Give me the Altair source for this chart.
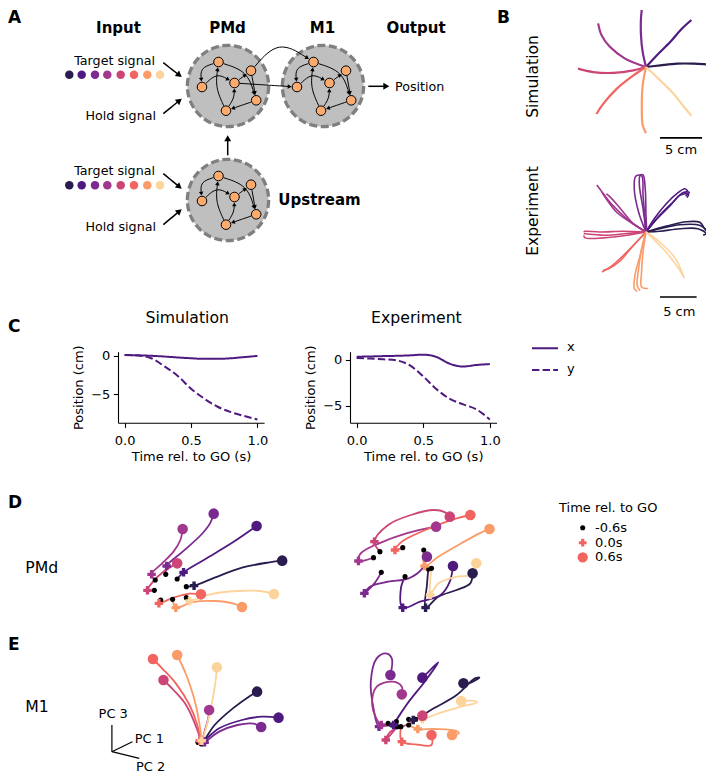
import math
import altair as alt
import pandas as pd

FONT = "DejaVu Sans"
PAL = ["#2a1c4e", "#4e1a80", "#7b2a8f", "#a2378e", "#cd4577", "#f1645f", "#fb9b68", "#fdd39c"]
CIDS = [f"c{i}" for i in range(8)]
CSC = alt.Scale(domain=CIDS, range=PAL)

# ---------------- Panel A : schematic ----------------
HEADERS = ["Input", "PMd", "M1", "Output"]
HEADER_X = [118.5, 227.5, 322.5, 416.0]
NET_NAMES = ["PMd", "M1", "Upstream"]
NET_X = [228, 323, 228]
NET_Y = [84, 84, 198]
NODE_DX = [-9.5, 23.0, 6.5, -26.0, 28.2, -2.0]
NODE_DY = [-24.0, -15.3, -3.0, 1.0, 14.3, 24.7]
EDGE_FROM = [0, 3, 0, 5, 5, 4, 2, 1]
EDGE_TO = [3, 2, 4, 0, 2, 5, 1, 4]
EDGE_BEND = [12, -12, -14, -7, 4, 0, 0, 0]
CROSS_EDGES = [(1, 0, -27), (2, 3, 0)]  # PMd node -> M1 node, bend
SIGNAL_ROW_Y = [72.8, 183.3]
SIGNAL_X = [69.3, 81.7, 95.0, 107.3, 120.7, 134.0, 147.3, 160.0]
INPUT_LABELS = ["Target signal", "Hold signal", "Target signal", "Hold signal"]
INPUT_LABEL_X = [155, 156, 155, 156]
INPUT_LABEL_Y = [59.0, 114.3, 169.3, 225.3]
EXT_ARROWS = [(163.3, 60.7, 181.7, 75.0), (163.3, 111.7, 181.7, 96.7),
              (163.3, 171.7, 181.7, 186.7), (163.3, 222.7, 181.7, 207.3),
              (227.7, 153.3, 227.7, 133.3), (368.3, 84.3, 389.3, 84.3)]

# ---------------- Panel B : hand trajectories (cm) ----------------
BSIM_X = [[0, 1.7, 3.7, 5.6, 7.2, 8.0],
          [0, 1.3, 2.9, 4.2, 5.4],
          [0, -0.4, -0.6, -0.6, -0.4],
          [0, -2.5, -4.3, -5.3, -5.7],
          [0, -1.5, -3.9, -6.3, -8.1],
          [0, -1.5, -3.5, -5.1, -5.9],
          [0, -0.4, -0.5, -0.4, 0.0],
          [0, 1.7, 3.3, 4.4, 5.4]]
BSIM_Y = [[0, 0.2, 0.4, 0.4, 0.3, 0.1],
          [0, 1.4, 3.0, 4.5, 5.6],
          [0, 1.8, 3.8, 5.8, 7.7],
          [0, 1.0, 2.4, 3.8, 5.2],
          [0, -0.4, -0.7, -0.6, -0.2],
          [0, -1.0, -2.6, -4.4, -5.6],
          [0, -2.2, -5.0, -6.9, -7.9],
          [0, -1.6, -3.2, -4.6, -5.8]]
BEXP_C = [0, 0, 0, 1, 1, 1, 2, 2, 3, 3, 3, 4, 4, 4, 5, 5, 6, 6, 6, 7, 7]
BEXP_X = [[0, 1.9, 4.6, 7.4, 8.3, 8.5], [0, 1.9, 4.6, 7.1, 8.2, 7.8], [0, 2.8, 5.5, 7.4, 8.0, 8.5],
          [0, 1.5, 3.3, 4.6, 5.8, 5.6], [0, 1.9, 3.7, 5.1, 5.9, 5.4], [0, 1.2, 2.8, 4.3, 5.3, 5.7],
          [0, -0.4, -0.9, -0.8, -0.4, -0.1, 0, 0.1], [0, -1.0, -1.6, -1.4, -0.6, -0.4, 0],
          [0, -2.6, -4.5, -5.8, -6.7], [0, -2.2, -4.0, -5.4, -6.0, -5.6], [0, -1.7, -3.5, -4.9, -5.4],
          [0, -2.6, -5.4, -7.6, -8.5], [0, -2.6, -5.8, -8.3, -8.5], [0, -3.1, -6.3, -8.3, -8.5],
          [0, -1.3, -3.1, -4.9, -6.0], [0, -1.7, -3.5, -5.1, -5.8],
          [0, -0.6, -1.0, -1.2, -0.8], [0, -0.4, -0.6, -0.6, 0.3], [0, -0.8, -1.5, -1.6, -1.2],
          [0, 1.45, 3.3, 4.6, 5.1], [0, 1.9, 4.0, 5.0, 5.2]]
BEXP_Y = [[0, 0.45, 1.0, 0.9, 0.2, -0.2], [0, 0.1, 0.45, 0.45, -0.2, -0.45], [0, 0.8, 1.4, 1.3, 0.45, 0],
          [0, 1.8, 3.6, 5.0, 5.2, 4.7], [0, 2.3, 4.1, 5.4, 5.4, 4.9], [0, 1.9, 3.9, 5.3, 5.9, 5.6],
          [0, 3.2, 6.4, 7.7, 7.8, 5.9, 2.3, 0], [0, 2.7, 5.9, 7.6, 7.7, 5.0, 0],
          [0, 1.8, 3.6, 5.2, 6.4], [0, 1.4, 2.7, 4.5, 5.4, 5.0], [0, 1.1, 3.2, 4.8, 5.2],
          [0, -0.2, -0.45, -0.3, -0.2], [0, -0.45, -0.8, -0.8, -0.45], [0, 0.1, 0, 0.1, 0],
          [0, -1.4, -3.2, -4.8, -5.45], [0, -1.8, -3.9, -5.0, -5.2],
          [0, -2.3, -5.0, -7.3, -8.0], [0, -2.7, -5.45, -7.5, -7.7], [0, -3.2, -5.9, -7.7, -8.1],
          [0, -1.4, -3.4, -5.2, -6.1], [0, -1.4, -3.6, -5.7, -6.3]]

# ---------------- Panel C : position vs time ----------------
T = [0.0, 0.1, 0.2, 0.3, 0.4, 0.5, 0.6, 0.7, 0.8, 0.9, 1.0]
SIM_XPOS = [0.13, 0.08, 0.02, -0.08, -0.2, -0.3, -0.38, -0.38, -0.3, -0.15, 0.0]
SIM_YPOS = [0.13, 0.05, -0.3, -1.35, -2.6, -4.25, -5.55, -6.6, -7.3, -7.8, -8.25]
EXP_XPOS = [0.35, 0.38, 0.42, 0.45, 0.5, 0.58, 0.32, -0.42, -0.72, -0.55, -0.45]
EXP_YPOS = [0.2, 0.15, 0.07, -0.05, -0.6, -1.8, -3.2, -4.25, -4.85, -5.4, -6.5]

# ---------------- Panel D : PMd PCs ----------------
PMD_SIM_X = [[4.08, 4.25, 4.70, 5.30, 5.90, 6.18], [3.88, 4.02, 4.50, 5.10, 5.62],
             [3.63, 3.65, 4.00, 4.40, 4.60, 4.68], [3.40, 3.32, 3.55, 3.80, 3.95, 4.00],
             [3.38, 3.23, 3.35, 3.60, 3.88], [3.52, 3.48, 3.80, 4.15, 4.40],
             [3.78, 3.85, 4.20, 4.70, 5.10, 5.30], [4.08, 4.15, 4.60, 5.20, 5.70, 6.00]]
PMD_SIM_Y = [[3.05, 3.02, 2.78, 2.48, 2.32, 2.27], [2.82, 2.62, 2.22, 1.72, 1.23],
             [2.68, 2.43, 2.00, 1.50, 1.15, 0.86], [2.85, 2.68, 2.35, 2.00, 1.65, 1.32],
             [3.16, 3.16, 2.90, 2.58, 2.35], [3.45, 3.55, 3.38, 3.26, 3.28],
             [3.43, 3.68, 3.52, 3.48, 3.55, 3.66], [3.38, 3.48, 3.28, 3.18, 3.18, 3.27]]
PMD_SIM_GO = [1, 1, 1, 1, 1, 1, 1, 1]
PMD_EXP_X = [[9.38, 9.35, 9.32, 9.60, 10.00, 10.30, 10.35], [8.87, 8.78, 8.82, 9.20, 9.65, 9.85, 9.92],
             [8.35, 8.20, 7.98, 8.10, 8.50, 8.95, 9.25, 9.35], [8.18, 7.85, 7.90, 8.30, 8.90, 9.55],
             [8.32, 8.20, 8.50, 9.00, 9.50, 9.75, 9.85], [8.82, 8.65, 8.80, 9.40, 10.00, 10.30],
             [9.28, 9.30, 9.60, 10.10, 10.50, 10.72], [9.45, 9.42, 9.42, 9.60, 10.00, 10.35, 10.43]]
PMD_EXP_Y = [[2.52, 3.00, 3.68, 3.35, 3.15, 2.95, 2.65], [2.75, 3.10, 3.68, 3.50, 3.30, 2.90, 2.43],
             [2.62, 2.95, 3.25, 3.05, 2.90, 2.80, 2.50, 2.15], [2.18, 2.28, 2.05, 1.75, 1.45, 1.25],
             [2.00, 1.70, 1.20, 0.90, 0.75, 0.82, 0.95], [1.88, 1.95, 1.70, 1.30, 1.00, 0.90],
             [1.95, 2.43, 2.15, 1.75, 1.45, 1.32], [2.50, 2.90, 3.30, 2.95, 2.75, 2.68, 2.35]]
PMD_EXP_GO = [2, 2, 2, 1, 1, 1, 1, 2]

# ---------------- Panel E : M1 PCs ----------------
M1_SIM_X = [[4.40, 4.45, 4.70, 5.10, 5.45, 5.63], [4.40, 4.45, 4.80, 5.30, 5.75, 6.10],
            [4.42, 4.48, 4.80, 5.20, 5.55, 5.72], [4.38, 4.42, 4.50, 4.56, 4.58],
            [4.34, 4.38, 4.25, 4.05, 3.80, 3.58], [4.34, 4.38, 4.32, 4.15, 3.85, 3.55, 3.35],
            [4.36, 4.40, 4.36, 4.25, 4.08, 3.88], [4.38, 4.42, 4.55, 4.66, 4.72, 4.75]]
M1_SIM_Y = [[3.55, 3.50, 3.00, 2.50, 2.15, 2.00], [3.55, 3.50, 3.10, 2.85, 2.75, 2.78],
            [3.57, 3.52, 3.20, 3.00, 2.96, 3.06], [3.52, 3.47, 3.10, 2.80, 2.55],
            [3.52, 3.47, 2.90, 2.35, 1.95, 1.65], [3.52, 3.47, 3.00, 2.40, 1.75, 1.30, 1.02],
            [3.52, 3.47, 2.90, 2.20, 1.50, 0.90], [3.52, 3.47, 2.90, 2.20, 1.70, 1.27]]
M1_SIM_GO = [1, 1, 1, 1, 1, 1, 1, 1]
M1_EXP_X = [[8.95, 9.05, 9.50, 10.00, 10.40, 10.50, 10.20, 10.15], [8.68, 8.62, 8.90, 9.30, 9.60, 9.35, 9.25],
            [8.50, 8.30, 8.18, 8.12, 8.25, 8.45, 8.58, 8.55], [8.58, 8.35, 8.15, 8.25, 8.60, 8.80, 8.80],
            [8.70, 8.45, 8.55, 8.90, 9.20, 9.25], [8.78, 8.80, 9.10, 9.45, 9.45],
            [8.95, 9.15, 9.50, 10.00, 10.05, 9.90], [9.10, 9.25, 9.60, 10.10, 10.45, 10.40, 10.10]]
M1_EXP_Y = [[2.83, 2.85, 2.50, 2.10, 1.60, 1.58, 1.78, 1.75], [2.90, 3.00, 2.40, 1.70, 1.12, 1.45, 1.58],
            [2.95, 3.05, 2.50, 1.70, 1.00, 0.85, 1.00, 1.50], [3.00, 3.00, 2.40, 1.85, 1.70, 1.85, 2.08],
            [3.05, 3.45, 3.20, 3.00, 2.80, 2.72], [3.05, 3.50, 3.58, 3.60, 3.30],
            [3.00, 3.12, 3.12, 3.18, 3.25, 3.30], [2.83, 2.83, 2.65, 2.45, 2.32, 2.28, 2.28]]
M1_EXP_GO = [1, 1, 1, 1, 1, 1, 1, 1]

LEGEND_LABELS = ["-0.6s", "0.0s", "0.6s"]


# ================= helpers =================
class Frame:
    def __init__(self, xd, yd, w, h, rev=True):
        self.xd, self.yd, self.w, self.h, self.rev = xd, yd, w, h, rev

    def X(self, f="x"):
        return alt.X(f"{f}:Q", scale=alt.Scale(domain=self.xd, nice=False, zero=False), axis=None)

    def Y(self, f="y"):
        if self.rev:
            sc = alt.Scale(domain=self.yd, nice=False, zero=False, reverse=True)
        else:
            sc = alt.Scale(domain=self.yd, nice=False, zero=False)
        return alt.Y(f"{f}:Q", scale=sc, axis=None)

    def text(self, labels, xs, ys, size=13, weight="normal", align="left", angle=0, color="black"):
        df = pd.DataFrame({"x": xs, "y": ys, "t": labels})
        kw = dict(font=FONT, fontSize=size, fontWeight=weight, align=align, baseline="middle", color=color)
        if angle:
            kw["angle"] = angle
        return alt.Chart(df).mark_text(**kw).encode(x=self.X(), y=self.Y(), text="t:N")

    def rules(self, x, y, x2, y2, color="black", width=1.2):
        df = pd.DataFrame({"x": x, "y": y, "x2": x2, "y2": y2})
        return alt.Chart(df).mark_rule(color=color, strokeWidth=width).encode(
            x=self.X(), y=self.Y(), x2="x2:Q", y2="y2:Q")

    def done(self, layers):
        return alt.layer(*layers).properties(width=self.w, height=self.h)


def spacer(w, h):
    return alt.Chart(pd.DataFrame({"x": [0.5]})).mark_point(opacity=0).encode(
        x=alt.X("x:Q", scale=alt.Scale(domain=[0, 1]), axis=None),
        y=alt.Y("x:Q", scale=alt.Scale(domain=[0, 1]), axis=None)).properties(width=w, height=h)


def hcat(*c):
    return alt.hconcat(*c, spacing=0, bounds="flush").resolve_scale(x="independent", y="independent")


def vcat(*c):
    return alt.vconcat(*c, spacing=0, bounds="flush").resolve_scale(x="independent", y="independent")


def unit(dx, dy):
    L = math.hypot(dx, dy)
    return dx / L, dy / L


# ================= Panel A cell =================
A = Frame([8, 560], [8, 300], 552, 292)
edge_rows, head_rows = [], []


def add_arrow(p0, p1, bend, r0, r1, hsize, lw):
    (ax, ay), (bx, by) = p0, p1
    dx, dy = bx - ax, by - ay
    L = math.hypot(dx, dy)
    px, py = -dy / L, dx / L
    cx, cy = (ax + bx) / 2 + bend * px, (ay + by) / 2 + bend * py
    u0 = unit(cx - ax, cy - ay)
    u1 = unit(bx - cx, by - cy)
    s = (ax + r0 * u0[0], ay + r0 * u0[1])
    tip = (bx - r1 * u1[0], by - r1 * u1[1])
    h = math.sqrt(3) / 4 * math.sqrt(hsize)
    hc = (tip[0] - h * u1[0], tip[1] - h * u1[1])
    eid = len(head_rows)
    for o, (x, y) in enumerate([s, (cx, cy), hc]):
        edge_rows.append({"e": eid, "o": o, "x": x, "y": y, "w": lw})
    ang = math.degrees(math.atan2(u1[0], -u1[1])) % 360
    head_rows.append({"x": hc[0], "y": hc[1], "a": ang, "s": hsize})


NODE_R = 5.4
node_rows = []
for nx, ny in zip(NET_X, NET_Y):
    pts = [(nx + dx, ny + dy) for dx, dy in zip(NODE_DX, NODE_DY)]
    for p in pts:
        node_rows.append({"x": p[0], "y": p[1]})
    for a, b, bend in zip(EDGE_FROM, EDGE_TO, EDGE_BEND):
        add_arrow(pts[a], pts[b], bend, NODE_R, NODE_R, 20, 1.0)
for a, b, bend in CROSS_EDGES:
    pa = (NET_X[0] + NODE_DX[a], NET_Y[0] + NODE_DY[a])
    pb = (NET_X[1] + NODE_DX[b], NET_Y[1] + NODE_DY[b])
    add_arrow(pa, pb, bend, NODE_R, NODE_R, 20, 1.0)
for x0, y0, x1, y1 in EXT_ARROWS:
    add_arrow((x0, y0), (x1, y1), 0, 0, 0, 48, 1.5)

a_layers = []
a_layers.append(alt.Chart(pd.DataFrame({"x": NET_X, "y": NET_Y, "n": NET_NAMES})).mark_point(
    shape="circle", filled=True, fill="#bfbfbf", stroke="#7f7f7f", strokeWidth=3.3,
    strokeDash=[8, 3.6], size=6610, opacity=1).encode(x=A.X(), y=A.Y()))
a_layers.append(alt.Chart(pd.DataFrame(edge_rows)).mark_line(color="black", interpolate="basis").encode(
    x=A.X(), y=A.Y(), detail="e:N", order="o:Q", strokeWidth=alt.StrokeWidth("w:Q", scale=None)))
a_layers.append(alt.Chart(pd.DataFrame(head_rows)).mark_point(
    shape="triangle-up", filled=True, color="black", opacity=1).encode(
    x=A.X(), y=A.Y(), angle=alt.Angle("a:Q", scale=None), size=alt.Size("s:Q", scale=None)))
a_layers.append(alt.Chart(pd.DataFrame(node_rows)).mark_point(
    shape="circle", filled=True, fill="#fbab6e", stroke="black", strokeWidth=1, size=92, opacity=1).encode(
    x=A.X(), y=A.Y()))
sig_rows = [{"x": x, "y": y, "c": CIDS[i]} for y in SIGNAL_ROW_Y for i, x in enumerate(SIGNAL_X)]
a_layers.append(alt.Chart(pd.DataFrame(sig_rows)).mark_point(shape="circle", filled=True, size=72, opacity=1).encode(
    x=A.X(), y=A.Y(), color=alt.Color("c:N", scale=CSC, legend=None)))
a_layers.append(A.text(INPUT_LABELS, INPUT_LABEL_X, INPUT_LABEL_Y, size=12.7, align="right"))
a_layers.append(A.text(HEADERS, HEADER_X, [26.2] * 4, size=15, weight="bold", align="center"))
a_layers.append(A.text(["Position"], [395], [85], size=12.7))
a_layers.append(A.text(["Upstream"], [278.3], [197.7], size=15, weight="bold"))
a_layers.append(A.text(["A", "B"], [8, 497], [16, 15.5], size=17, weight="bold"))
a_layers.append(A.text(["Simulation", "Experiment"], [533, 533], [74.5, 209], size=15.5, align="center", angle=270))
cellA = A.done(a_layers)


# ================= Panel B cells =================
def b_cell(F, cond, xs_list, ys_list, lw, bar_x0, bar_y, txt_y):
    rows = []
    for k, (c, xs, ys) in enumerate(zip(cond, xs_list, ys_list)):
        for i, (x, y) in enumerate(zip(xs, ys)):
            rows.append({"k": k, "c": CIDS[c], "i": i, "x": x, "y": y})
    lines = alt.Chart(pd.DataFrame(rows)).mark_line(strokeWidth=lw, interpolate="catmull-rom", clip=True).encode(
        x=F.X(), y=F.Y(), color=alt.Color("c:N", scale=CSC, legend=None), detail="k:N", order="i:Q")
    layers = [lines, F.rules([bar_x0], [bar_y], [bar_x0 + 5], [bar_y], width=1.7)]
    if txt_y is not None:
        layers.append(F.text(["5 cm"], [bar_x0 + 2.5], [txt_y], size=13, align="center"))
    return F.done(layers)


BS = Frame([-10.24, 7.14], [-10.6, 6.79], 146, 146, rev=False)
BE = Frame([-11.73, 8.19], [-9.55, 10.37], 146, 146, rev=False)
cellBs = b_cell(BS, list(range(8)), BSIM_X, BSIM_Y, 2.2, 1.67, -8.45, -9.85)
cellBe = b_cell(BE, BEXP_C, BEXP_X, BEXP_Y, 1.6, 1.91, -8.87, None)

row1 = hcat(cellA, vcat(cellBs, cellBe))

# ================= Panel C =================
DASH = alt.Scale(domain=["x", "y"], range=[[1, 0], [7.4, 3.2]])
AXIS_STYLE = dict(grid=False, domainColor="black", domainWidth=1.1, tickColor="black", tickWidth=1.1,
                  tickSize=4.7, labelFont=FONT, labelFontSize=13, labelColor="black",
                  titleFont=FONT, titleFontSize=13, titleFontWeight="normal", titleColor="black",
                  labelFlush=False, labelOverlap=False)
C_TOP, C_BOTTOM = 46.7, 117.7   # plot area inside a 300..480 row (pixels from row top)


def cplot(xs, ys, ydom, w):
    df = pd.DataFrame({"t": T + T, "v": xs + ys, "k": ["x"] * len(T) + ["y"] * len(T)})
    return alt.Chart(df).mark_line(color=PAL[1], strokeWidth=2, interpolate="monotone").encode(
        x=alt.X("t:Q", scale=alt.Scale(domain=[-0.05, 1.05], nice=False, zero=False),
                axis=alt.Axis(values=[0, 0.5, 1.0], format=".1f", title="Time rel. to GO (s)",
                              labelPadding=6.8, titlePadding=3, **AXIS_STYLE)),
        y=alt.Y("v:Q", scale=alt.Scale(domain=ydom, nice=False, zero=False, range=[C_BOTTOM, C_TOP]),
                axis=alt.Axis(values=[0, -5], format="d", title="Position (cm)",
                              labelPadding=3.5, titlePadding=5, **AXIS_STYLE)),
        strokeDash=alt.StrokeDash("k:N", scale=DASH, legend=None),
    ).properties(width=w, height=C_BOTTOM)


CL = Frame([8, 117.8], [300, 480], 109.8, 180)
leg_df = pd.DataFrame({"k": ["x", "y"], "x": [532, 532], "x2": [558, 558], "y": [343.3, 365.0]})
c_leg = alt.Chart(leg_df).mark_rule(color=PAL[1], strokeWidth=2).encode(
    x=CL.X(), x2="x2:Q", y=CL.Y(), strokeDash=alt.StrokeDash("k:N", scale=DASH, legend=None))
c_left = CL.done([
    CL.text(["C"], [8], [321.5], size=17, weight="bold"),
    CL.text(["Simulation", "Experiment"], [187.2, 416.4], [313.2, 313.2], size=15.7, align="center"),
    c_leg,
    CL.text(["x", "y"], [567, 567], [342.3, 364.0], size=13),
    CL.text(["5 cm"], [679.3], [306.8], size=13, align="center"),
])
row2 = hcat(c_left, cplot(SIM_XPOS, SIM_YPOS, [-8.67, 0.55], 146.1),
            spacer(84.1, 1), cplot(EXP_XPOS, EXP_YPOS, [-6.85, 0.9], 146.5))


# ================= Panels D / E =================
def traj_panel(F, xs_list, ys_list, go_list, lw=1.8):
    L, D, C, E = [], [], [], []
    for ci, (xs, ys, g) in enumerate(zip(xs_list, ys_list, go_list)):
        c = CIDS[ci]
        for i, (x, y) in enumerate(zip(xs, ys)):
            L.append({"c": c, "i": i, "x": x, "y": y})
        D.append({"c": c, "x": xs[0], "y": ys[0]})
        C.append({"c": c, "x": xs[g], "y": ys[g]})
        E.append({"c": c, "x": xs[-1], "y": ys[-1]})
    col = alt.Color("c:N", scale=CSC, legend=None)
    lines = alt.Chart(pd.DataFrame(L)).mark_line(strokeWidth=lw, interpolate="catmull-rom").encode(
        x=F.X(), y=F.Y(), color=col, detail="c:N", order="i:Q")
    dots = alt.Chart(pd.DataFrame(D)).mark_point(shape="circle", filled=True, color="black",
                                                 size=26, opacity=1).encode(x=F.X(), y=F.Y())
    crosses = alt.Chart(pd.DataFrame(C)).mark_point(shape="cross", filled=True, size=72, opacity=1).encode(
        x=F.X(), y=F.Y(), color=col)
    ends = alt.Chart(pd.DataFrame(E)).mark_point(shape="circle", filled=True, size=112, opacity=1).encode(
        x=F.X(), y=F.Y(), color=col)
    return F.done([lines, dots, crosses, ends])


DL = Frame([8, 140], [480, 620], 132, 140)
d_label = DL.done([DL.text(["D"], [8], [498], size=17, weight="bold"),
                   DL.text(["PMd"], [41.8], [562.7], size=15.7, align="center")])
DS = Frame([3.066, 6.789], [0, 4.2], 170, 140)
DE = Frame([6.789, 11.826], [0, 4.2], 230, 140)
DG = Frame([540, 706], [480, 620], 166, 140)
MK_Y = [522.7, 537.7, 552.3]
d_leg = DG.done([
    DG.text(["Time rel. to GO"], [559], [503.3], size=13),
    alt.Chart(pd.DataFrame({"x": [582.7], "y": [MK_Y[0]]})).mark_point(
        shape="circle", filled=True, color="black", size=26, opacity=1).encode(x=DG.X(), y=DG.Y()),
    alt.Chart(pd.DataFrame({"x": [582.7], "y": [MK_Y[1]]})).mark_point(
        shape="cross", filled=True, color=PAL[5], size=60, opacity=1).encode(x=DG.X(), y=DG.Y()),
    alt.Chart(pd.DataFrame({"x": [582.7], "y": [MK_Y[2]]})).mark_point(
        shape="circle", filled=True, color=PAL[5], size=105, opacity=1).encode(x=DG.X(), y=DG.Y()),
    DG.text(LEGEND_LABELS, [595] * 3, MK_Y, size=13),
])
row3 = hcat(d_label, traj_panel(DS, PMD_SIM_X, PMD_SIM_Y, PMD_SIM_GO),
            traj_panel(DE, PMD_EXP_X, PMD_EXP_Y, PMD_EXP_GO), d_leg)

EL = Frame([8, 140], [620, 769], 132, 149)
e_label = EL.done([
    EL.text(["E"], [8], [639.5], size=17, weight="bold"),
    EL.text(["M1"], [37], [701.7], size=15.7, align="center"),
    EL.rules([111.9, 111.9, 111.9], [746.7, 746.7, 746.7], [111.9, 132.4, 139.3], [720.0, 736.7, 753.3], width=1.2),
    EL.text(["PC 3"], [113.2], [709.3], size=13, align="center"),
    EL.text(["PC 1", "PC 2"], [134.7, 136.0], [734.0, 761.5], size=13),
])
ES = Frame([3.066, 6.789], [0, 4.47], 170, 149)
EE = Frame([6.789, 11.826], [0, 4.47], 230, 149)
row4 = hcat(e_label, traj_panel(ES, M1_SIM_X, M1_SIM_Y, M1_SIM_GO),
            traj_panel(EE, M1_EXP_X, M1_EXP_Y, M1_EXP_GO))

chart = (alt.vconcat(row1, row2, row3, row4, spacing=0, bounds="full")
         .resolve_scale(x="independent", y="independent")
         .properties(padding=0, background="white")
         .configure_view(strokeWidth=0))
chart.save("out.html", embed_options={"renderer": "svg", "actions": False})
